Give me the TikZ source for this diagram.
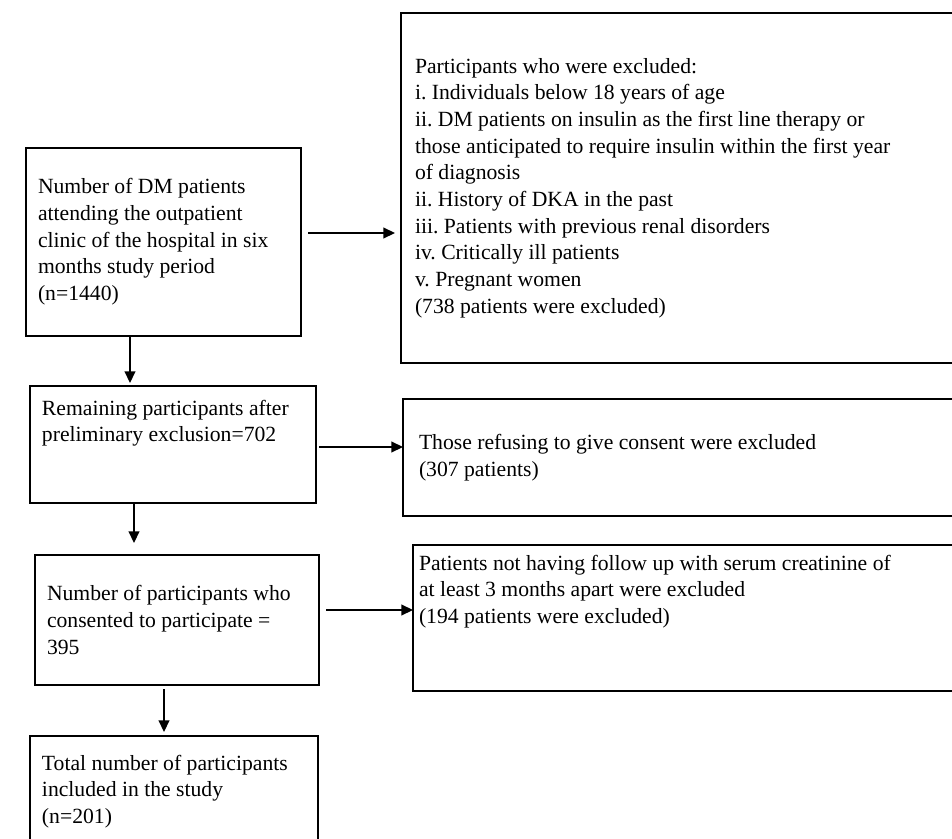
\documentclass[tikz,border=0pt]{standalone}
\usepackage{fontspec}
\setmainfont{Liberation Serif}
\frenchspacing
\usetikzlibrary{positioning,arrows.meta}
\providecommand{\fbtext}[4]{\parbox[c][#1][#2]{#3}{\raggedright #4}}
\tikzset{
  flowbox/.style={draw, line width=1.4pt, anchor=north west, inner xsep=7.2pt,
    inner ysep=0pt, outer sep=0pt, font=\fontsize{13pt}{16pt}\selectfont},
  arr/.style={-{Triangle[length=7pt,width=6.5pt]}, line width=0.8pt},
}

\begin{document}
\begin{tikzpicture}
\useasboundingbox (0,0) rectangle (571.2pt,-503.4pt);

% Define nodes
\node[flowbox] (b1) at (15.6pt,-88.8pt)
  {\fbtext{112.8pt}{c}{150.6pt}{Number of DM patients\\attending the outpatient\\clinic of the hospital in six\\months study period\\(n=1440)}};
\node[flowbox, inner ysep=8.4pt, below=30pt of b1.south west, xshift=2.4pt, anchor=north west] (b2)
  {\fbtext{53.4pt}{t}{157.2pt}{Remaining participants after\\preliminary exclusion=702}};
\node[flowbox, below=31.2pt of b2.south west, xshift=3pt, anchor=north west] (b3)
  {\fbtext{78pt}{c}{156pt}{Number of participants who\\consented to participate =\\395}};
\node[flowbox, inner ysep=11.4pt, below=30.6pt of b3.south west, xshift=-3pt, anchor=north west] (b4)
  {\fbtext{45.6pt}{t}{158.4pt}{Total number of participants\\included in the study\\(n=201)}};
\node[flowbox, inner xsep=8.4pt, above right=81pt and 60pt of b1.north east, anchor=north west] (xa)
  {\fbtext{210pt}{c}{318.6pt}{Participants who were excluded:\\i. Individuals below 18 years of age\\ii. DM patients on insulin as the first line therapy or\\those anticipated to require insulin within the first year\\of diagnosis\\ii. History of DKA in the past\\iii. Patients with previous renal disorders\\iv. Critically ill patients\\v. Pregnant women\\(738 patients were excluded)}};
\node[flowbox, inner xsep=9.6pt, below=21.6pt of xa.south west, xshift=1.2pt, anchor=north west] (xb)
  {\fbtext{70.2pt}{c}{315pt}{Those refusing to give consent were excluded\\(307 patients)}};
\node[flowbox, inner xsep=3.6pt, inner ysep=6pt, below=17.4pt of xb.south west, xshift=6pt, anchor=north west] (xc)
  {\fbtext{75.6pt}{t}{321pt}{Patients not having follow up with serum creatinine of\\at least 3 months apart were excluded\\(194 patients were excluded)}};

% Connect the nodes
\coordinate (a1) at ([yshift=5.4pt]b1.east);
\coordinate (a2) at ([xshift=-20.1pt]b1.south);
\coordinate (a3) at ([yshift=-1.5pt]b2.east);
\coordinate (a4) at ([xshift=-23.4pt]b2.south);
\coordinate (a5) at ([yshift=6pt]b3.east);
\coordinate (a6) at ([xshift=-7.8pt]b3.south);
\draw[arr, shorten <=4.2pt, shorten >=3.6pt] (a1) -- (a1 -| xa.west);
\draw[arr, shorten >=1.8pt] (a2) -- (a2 |- b2.north);
\draw[arr, shorten <=1.8pt] (a3) -- (a3 -| xb.west);
\draw[arr, shorten >=7.2pt] (a4) -- (a4 |- b3.north);
\draw[arr, shorten <=4.2pt] (a5) -- (a5 -| xc.west);
\draw[arr, shorten <=2.4pt, shorten >=2.4pt] (a6) -- (a6 |- b4.north);

\end{tikzpicture}
\end{document}
